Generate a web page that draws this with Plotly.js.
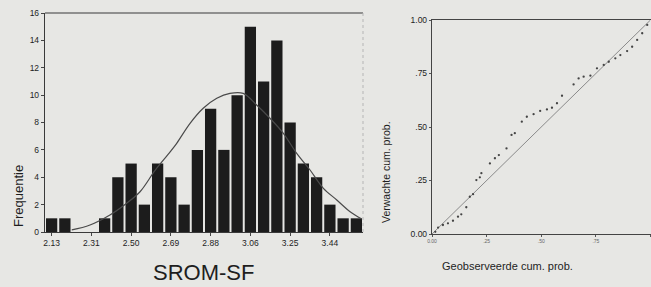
<!DOCTYPE html>
<html>
<head>
<meta charset="utf-8">
<script src="https://cdn.plot.ly/plotly-3.0.1.min.js"></script>
<style>
  html, body { margin: 0; padding: 0; background: #e7e7e4; }
  #chart { width: 651px; height: 287px; }
</style>
</head>
<body>
<div id="chart"></div>
<script>
// ---- Histogram data (SROM-SF) ----
const binCenters = [2.125, 2.1875, 2.25, 2.3125, 2.375, 2.4375, 2.5, 2.5625, 2.625, 2.6875,
                    2.75, 2.8125, 2.875, 2.9375, 3.0, 3.0625, 3.125, 3.1875, 3.25, 3.3125,
                    3.375, 3.4375, 3.5, 3.5625];
const frequencies = [1, 1, 0, 0, 1, 4, 5, 2, 5, 4,
                     2, 6, 9, 6, 10, 15, 11, 14, 8, 5,
                     4, 2, 1, 1];
const histTickVals = [2.125, 2.3125, 2.5, 2.6875, 2.875, 3.0625, 3.25, 3.4375];
const histTickText = ["2.13", "2.31", "2.50", "2.69", "2.88", "3.06", "3.25", "3.44"];

// normal curve
const curveX = [2.220, 2.306, 2.400, 2.479, 2.542, 2.613, 2.684, 2.715, 2.778, 2.840,
                2.904, 2.966, 3.029, 3.092, 3.155, 3.218, 3.281, 3.344, 3.407, 3.470,
                3.533, 3.588];
const curveY = [0.15, 0.51, 1.24, 2.10, 2.94, 4.50, 5.85, 6.48, 7.94, 9.04,
                9.77, 10.13, 10.13, 9.28, 8.31, 7.21, 5.75, 4.53, 3.19, 2.34,
                1.48, 0.95];

// ---- P-P plot data ----
const ppObserved = [0.015, 0.028, 0.050, 0.073, 0.096, 0.119, 0.134, 0.157, 0.173, 0.188,
                    0.203, 0.219, 0.226, 0.265, 0.288, 0.306, 0.341, 0.364, 0.379, 0.411,
                    0.434, 0.465, 0.495, 0.526, 0.549, 0.572, 0.595, 0.648, 0.671, 0.694,
                    0.725, 0.755, 0.786, 0.809, 0.839, 0.862, 0.893, 0.916, 0.939, 0.962,
                    0.985];
const ppExpected = [0.010, 0.030, 0.042, 0.050, 0.062, 0.081, 0.092, 0.125, 0.174, 0.186,
                    0.252, 0.265, 0.284, 0.330, 0.354, 0.369, 0.400, 0.463, 0.471, 0.525,
                    0.548, 0.560, 0.575, 0.582, 0.590, 0.611, 0.646, 0.699, 0.727, 0.735,
                    0.740, 0.774, 0.790, 0.805, 0.821, 0.836, 0.855, 0.875, 0.907, 0.938,
                    0.977];
const refLineX = [0, 1];
const refLineY = [0, 1];
const ppTickVals = [0, 0.25, 0.5, 0.75, 1];
const ppTickText = ["0.00", ".25", ".50", ".75", "1.00"];

const FONT = "Liberation Sans, Arial, Helvetica, sans-serif";
const INK = "#1e1e1e";
const BG = "#e7e7e4";

const traces = [
  {
    type: "bar", x: binCenters, y: frequencies, xaxis: "x", yaxis: "y",
    marker: { color: "#1c1c1c", line: { width: 0 } },
    hoverinfo: "skip"
  },
  {
    type: "scatter", mode: "lines", x: curveX, y: curveY, xaxis: "x", yaxis: "y",
    line: { color: "#4a4a4a", width: 1.2, shape: "spline" }, hoverinfo: "skip"
  },
  {
    type: "scatter", mode: "lines", x: refLineX, y: refLineY, xaxis: "x2", yaxis: "y2",
    line: { color: "#8a8a8a", width: 1 }, hoverinfo: "skip"
  },
  {
    type: "scatter", mode: "markers", x: ppObserved, y: ppExpected, xaxis: "x2", yaxis: "y2",
    marker: { color: "#444", size: 2.3 }, hoverinfo: "skip"
  }
];

const layout = {
  width: 651, height: 287,
  margin: { l: 0, r: 0, t: 0, b: 0 },
  paper_bgcolor: BG, plot_bgcolor: BG,
  showlegend: false,
  bargap: 0.15,
  font: { family: FONT, color: INK },
  xaxis: {
    domain: [45/651, 363/651], range: [2.09375, 3.59375],
    tickmode: "array", tickvals: histTickVals, ticktext: histTickText,
    ticks: "outside", ticklen: 3, tickcolor: "#444", tickwidth: 1,
    showline: true, linecolor: "#3a3a3a", linewidth: 1.2, mirror: false,
    showgrid: false, zeroline: false,
    tickfont: { size: 8.5, family: FONT, color: INK }
  },
  yaxis: {
    domain: [1 - 232/287, 1 - 13/287], range: [0, 16],
    tickmode: "array", tickvals: [0, 2, 4, 6, 8, 10, 12, 14, 16],
    ticks: "outside", ticklen: 3, tickcolor: "#444", tickwidth: 1,
    showline: true, linecolor: "#3a3a3a", linewidth: 1.2, mirror: false,
    showgrid: false, zeroline: false,
    tickfont: { size: 8.5, family: FONT, color: INK }
  },
  xaxis2: {
    domain: [432/651, 650.5/651], range: [0, 1], anchor: "y2",
    tickmode: "array", tickvals: ppTickVals, ticktext: ppTickText,
    ticks: "outside", ticklen: 2, tickcolor: "#555", tickwidth: 1,
    showline: true, linecolor: "#444", linewidth: 1.2, mirror: true,
    showgrid: false, zeroline: false,
    tickfont: { size: 5, family: FONT, color: "#666" }
  },
  yaxis2: {
    domain: [1 - 234/287, 1 - 20/287], range: [0, 1], anchor: "x2",
    tickmode: "array", tickvals: ppTickVals, ticktext: ppTickText,
    ticks: "outside", ticklen: 2, tickcolor: "#555", tickwidth: 1,
    showline: true, linecolor: "#444", linewidth: 1.2, mirror: true,
    showgrid: false, zeroline: false,
    tickfont: { size: 8.5, family: FONT, color: INK }
  },
  shapes: [
    { type: "line", xref: "x domain", yref: "y domain", x0: 0, x1: 1, y0: 1, y1: 1,
      line: { color: "#3a3a3a", width: 1.2 } },
    { type: "line", xref: "x domain", yref: "y domain", x0: 1, x1: 1, y0: 0, y1: 1,
      line: { color: "#b5b5b5", width: 1, dash: "dot" } }
  ],
  annotations: [
    { text: "Frequentie", xref: "paper", yref: "paper", x: 18/651, y: 1 - 196/287,
      textangle: -90, showarrow: false, font: { size: 13, family: FONT, color: INK },
      xanchor: "center", yanchor: "middle" },
    { text: "SROM-SF", xref: "paper", yref: "paper", x: 204/651, y: 1 - 272/287,
      showarrow: false, font: { size: 22, family: FONT, color: INK },
      xanchor: "center", yanchor: "middle" },
    { text: "Verwachte cum. prob.", xref: "paper", yref: "paper", x: 386/651, y: 1 - 172/287,
      textangle: -90, showarrow: false, font: { size: 10.5, family: FONT, color: INK },
      xanchor: "center", yanchor: "middle" },
    { text: "Geobserveerde cum. prob.", xref: "paper", yref: "paper", x: 507/651, y: 1 - 266/287,
      showarrow: false, font: { size: 11, family: FONT, color: INK },
      xanchor: "center", yanchor: "middle" }
  ]
};

Plotly.newPlot("chart", traces, layout, { staticPlot: true, displayModeBar: false });
</script>
</body>
</html>
